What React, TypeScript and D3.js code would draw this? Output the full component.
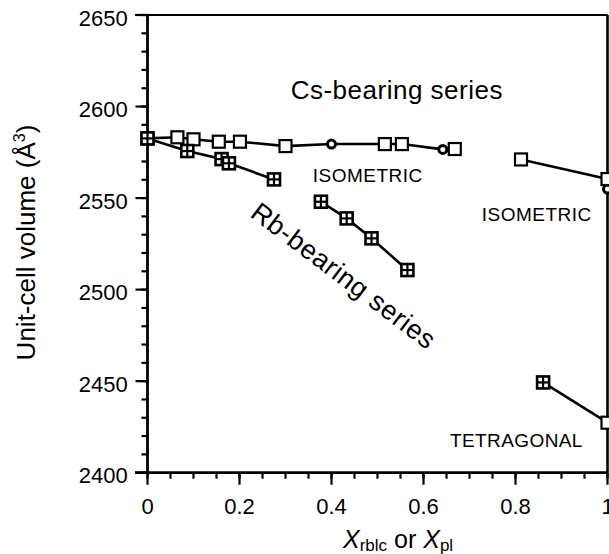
import React from 'react';
import * as d3 from 'd3';

// Cs-bearing series (open squares / circles), first branch
const csMainX = [0, 0.065, 0.1, 0.155, 0.201, 0.3, 0.4, 0.516, 0.553, 0.642, 0.668];
const csMainY = [2582.6, 2583.2, 2582.1, 2580.8, 2580.8, 2578.4, 2579.5, 2579.5, 2579.5, 2576.6, 2576.8];
const csMainMarker = ['s', 's', 's', 's', 's', 's', 'c', 's', 's', 'c', 's'];
// Cs-bearing series, high-X branch
const csHighX = [0.812, 1.0];
const csHighY = [2571.1, 2560.4];
const csExtraCircleX = [1.0];
const csExtraCircleY = [2554.9];
// Rb-bearing series (crossed squares)
const rbAX = [0, 0.0865, 0.161, 0.177, 0.275];
const rbAY = [2582.6, 2575.7, 2571.3, 2569.0, 2560.2];
const rbBX = [0.377, 0.433, 0.487, 0.565];
const rbBY = [2548.0, 2538.9, 2528.0, 2510.7];
// Tetragonal branch
const tetX = [0.86, 1.0];
const tetY = [2449.3, 2427.3];
const tetMarker = ['x', 's'];

const xTicks = [0, 0.2, 0.4, 0.6, 0.8, 1];
const yTicks = [2400, 2450, 2500, 2550, 2600, 2650];

const FONT = '"Liberation Sans", Arial, Helvetica, sans-serif';

export default function App() {
  const W = 609, H = 554;
  const x = d3.scaleLinear().domain([0, 1]).range([147.5, 607.5]);
  const y = d3.scaleLinear().domain([2400, 2650]).range([472.7, 15]);
  const line = d3.line<[number, number]>().x(d => x(d[0])).y(d => y(d[1]));
  const zip = (a: number[], b: number[]) => a.map((v, i) => [v, b[i]] as [number, number]);

  const xMinor = d3.range(0, 1.0001, 0.05);
  const yMinor = d3.range(2400, 2650.001, 10);

  const h = 6;
  const sq = (cx: number, cy: number, k: string) => (
    <rect key={k} x={cx - h} y={cy - h} width={2 * h} height={2 * h} fill="#fff" stroke="#000" strokeWidth={2.2} />
  );
  const xsq = (cx: number, cy: number, k: string) => (
    <g key={k}>
      <rect x={cx - h} y={cy - h} width={2 * h} height={2 * h} fill="#fff" stroke="#000" strokeWidth={2.6} />
      <line x1={cx} x2={cx} y1={cy - h} y2={cy + h} stroke="#000" strokeWidth={2.2} />
      <line x1={cx - h} x2={cx + h} y1={cy} y2={cy} stroke="#000" strokeWidth={2.2} />
    </g>
  );
  const circ = (cx: number, cy: number, k: string) => (
    <circle key={k} cx={cx} cy={cy} r={4} fill="#fff" stroke="#000" strokeWidth={3} />
  );

  const x0 = x(0), x1 = x(1), yTop = y(2650), yBot = y(2400);

  return (
    <svg width={W} height={H} style={{ position: 'absolute', left: 0, top: 0, background: '#fff' }} fontFamily={FONT}>
      <rect x={0} y={0} width={W} height={H} fill="#fff" />
      {/* frame */}
      <line x1={135} x2={x1} y1={yTop} y2={yTop} stroke="#000" strokeWidth={2.2} />
      <line x1={x1} x2={x1} y1={yTop} y2={yBot} stroke="#000" strokeWidth={2.6} />
      <line x1={x0} x2={x0} y1={yTop - 1} y2={yBot + 1} stroke="#000" strokeWidth={2.8} />
      <line x1={135} x2={x1} y1={yBot} y2={yBot} stroke="#000" strokeWidth={2.8} />
      {/* y ticks */}
      {yMinor.map((v, i) => (
        <line key={'ym' + i} x1={x0 - 6} x2={x0} y1={y(v)} y2={y(v)} stroke="#000" strokeWidth={2.2} />
      ))}
      {yTicks.map(v => (
        <g key={'yt' + v}>
          <line x1={x0 - 12} x2={x0} y1={y(v)} y2={y(v)} stroke="#000" strokeWidth={2.2} />
          <text x={127.7} y={y(v) + 10.6} textAnchor="end" fontSize={22}>{v}</text>
        </g>
      ))}
      {/* x ticks */}
      {xMinor.map((v, i) => (
        <line key={'xm' + i} x1={x(v)} x2={x(v)} y1={yBot} y2={yBot + 6} stroke="#000" strokeWidth={2.2} />
      ))}
      {xTicks.map(v => (
        <g key={'xt' + v}>
          <line x1={x(v)} x2={x(v)} y1={yBot} y2={yBot + 12} stroke="#000" strokeWidth={2.2} />
          <text x={x(v)} y={yBot + 41.3} textAnchor="middle" fontSize={22}>{String(v)}</text>
        </g>
      ))}
      {/* axis titles */}
      <text x={343} y={547.5} fontSize={25}>
        <tspan fontStyle="italic">X</tspan>
        <tspan fontSize={17} dy={3}>rblc</tspan>
        <tspan dy={-3}> or </tspan>
        <tspan fontStyle="italic">X</tspan>
        <tspan fontSize={17} dy={3}>pl</tspan>
      </text>
      <text transform="translate(34.5,242.5) rotate(-90)" textAnchor="middle" fontSize={26}>
        Unit-cell volume (Å<tspan fontSize={16} dy={-10}>3</tspan><tspan dy={10}>)</tspan>
      </text>
      {/* lines */}
      <g fill="none" stroke="#000" strokeWidth={2.6}>
        <path d={line(zip(csMainX, csMainY)) || ''} />
        <path d={line(zip(csHighX, csHighY)) || ''} />
        <path d={line(zip(rbAX, rbAY)) || ''} />
        <path d={line(zip(rbBX, rbBY)) || ''} />
        <path d={line(zip(tetX, tetY)) || ''} />
      </g>
      {/* markers */}
      {csMainX.map((v, i) => csMainMarker[i] === 'c'
        ? circ(x(v), y(csMainY[i]), 'cm' + i)
        : sq(x(v), y(csMainY[i]), 'cm' + i))}
      {csExtraCircleX.map((v, i) => circ(x(v), y(csExtraCircleY[i]), 'ce' + i))}
      {csHighX.map((v, i) => sq(x(v), y(csHighY[i]), 'ch' + i))}
      {rbAX.map((v, i) => xsq(x(v), y(rbAY[i]), 'ra' + i))}
      {rbBX.map((v, i) => xsq(x(v), y(rbBY[i]), 'rb' + i))}
      {tetX.map((v, i) => tetMarker[i] === 'x'
        ? xsq(x(v), y(tetY[i]), 'tt' + i)
        : sq(x(v), y(tetY[i]), 'tt' + i))}
      {/* annotations */}
      <text x={290.7} y={99.3} fontSize={26} letterSpacing={0.5}>Cs-bearing series</text>
      <text x={312.7} y={181.6} fontSize={19} letterSpacing={0.5}>ISOMETRIC</text>
      <text x={481.7} y={220.6} fontSize={19} letterSpacing={0.5}>ISOMETRIC</text>
      <text x={450} y={447.3} fontSize={19} letterSpacing={0.4}>TETRAGONAL</text>
      <text transform="translate(249,216) rotate(37)" fontSize={27} letterSpacing={0.6}>Rb-bearing series</text>
    </svg>
  );
}
